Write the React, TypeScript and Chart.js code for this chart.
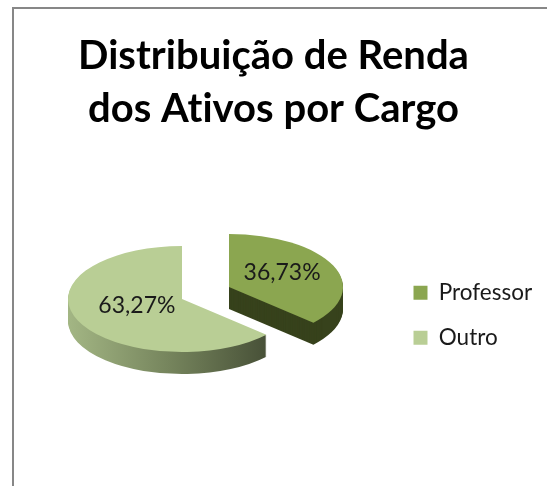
import React, { useEffect, useRef } from "react";
import { Chart, registerables } from "chart.js";

Chart.register(...registerables);

const titleLines = ["Distribuição de Renda", "dos Ativos por Cargo"];
const categories = ["Professor", "Outro"];
const shares = [36.73, 63.27];
const topColors = ["#8BA650", "#B9CE95"];

const FONT = "Lato, Carlito, sans-serif";
const CX = 182, CY = 299, RADIUS = 114, SQUASH = 0.465, DEPTH = 22;
const EXPLODE = [{ x: 47, y: -12 }, { x: 0, y: 0 }];
const LABEL_POS = [{ f: 0.5, dx: 1, dy: -4 }, { f: 0.5, dx: 7, dy: -4 }];

const tiltedPie = {
  id: "tiltedPie",
  beforeDraw(chart: any) {
    chart.ctx.letterSpacing = "0.01px";
  },
  afterLayout(chart: any) {
    const a = chart.chartArea;
    a.left = CX - 182; a.right = CX + 182; a.top = CY - 200; a.bottom = CY + 200;
    a.width = 364; a.height = 400;
    const l = chart.legend;
    const w = l.width, h = l.height;
    l.left = 391; l.right = 391 + w; l.top = 259; l.bottom = 259 + h;
  },
  beforeDatasetDraw(chart: any, args: any) {
    const ctx = chart.ctx as CanvasRenderingContext2D;
    const arcs = args.meta.data;
    const sideGradient = ctx.createLinearGradient(68, 0, 268, 0);
    sideGradient.addColorStop(0, "#A3B684");
    sideGradient.addColorStop(0.5, "#76855D");
    sideGradient.addColorStop(1, "#475037");
    const sideFill = ["#37421C", sideGradient];

    arcs.forEach((arc: any, i: number) => {
      const base = arc.options;
      const placed = (d: number) => {
        ctx.save();
        ctx.translate(EXPLODE[i].x, EXPLODE[i].y + d);
        ctx.translate(0, CY);
        ctx.scale(1, SQUASH);
        ctx.translate(0, -CY);
        arc.draw(ctx);
        ctx.restore();
      };
      arc.options = { ...base, backgroundColor: sideFill[i] };
      for (let d = DEPTH; d >= 1; d--) placed(d);
      arc.options = base;
      placed(0);
    });

    ctx.save();
    ctx.font = `23px ${FONT}`;
    ctx.fillStyle = "#1A1A1A";
    ctx.textAlign = "center";
    ctx.textBaseline = "middle";
    arcs.forEach((arc: any, i: number) => {
      const mid = (arc.startAngle + arc.endAngle) / 2;
      const r = arc.outerRadius * LABEL_POS[i].f;
      const x = arc.x + Math.cos(mid) * r + EXPLODE[i].x + LABEL_POS[i].dx;
      const y = arc.y + Math.sin(mid) * r * SQUASH + EXPLODE[i].y + LABEL_POS[i].dy;
      ctx.fillText(shares[i].toFixed(2).replace(".", ",") + "%", x, y);
    });
    ctx.restore();
    return false;
  },
};

export default function App() {
  const ref = useRef<HTMLCanvasElement>(null);
  useEffect(() => {
    const chart = new Chart(ref.current as HTMLCanvasElement, {
      type: "pie",
      data: {
        labels: categories,
        datasets: [{
          data: shares,
          backgroundColor: topColors,
          borderWidth: 0,
          radius: RADIUS,
          clip: false,
        }],
      },
      options: {
        responsive: false,
        animation: false,
        plugins: {
          title: {
            display: true,
            text: titleLines,
            color: "#000000",
            font: { family: FONT, size: 40, weight: "bold", lineHeight: 1.33 },
            padding: { top: 29, bottom: 0 },
          },
          legend: {
            position: "right",
            align: "start",
            labels: {
              boxWidth: 14,
              boxHeight: 14,
              padding: 22.5,
              color: "#1A1A1A",
              font: { family: FONT, size: 22.5 },
            },
          },
          tooltip: { enabled: false },
        },
      },
      plugins: [tiltedPie],
    } as any);
    return () => chart.destroy();
  }, []);
  return (
    <div style={{ position: "absolute", left: 0, top: 0, width: 547, height: 486, background: "#fff", overflow: "hidden" }}>
      <canvas ref={ref} width={547} height={486} style={{ display: "block" }} />
      <div style={{ position: "absolute", left: 12, top: 7, right: -4, bottom: -4, borderLeft: "2px solid #878787", borderTop: "2px solid #878787" }} />
    </div>
  );
}
